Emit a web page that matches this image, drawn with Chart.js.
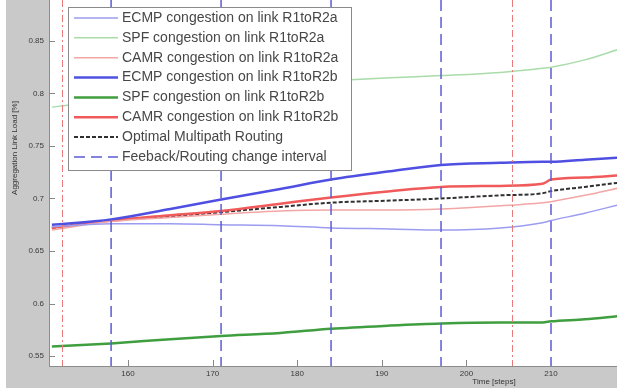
<!DOCTYPE html>
<html>
<head>
<meta charset="utf-8">
<script src="https://cdn.jsdelivr.net/npm/chart.js@4.4.0/dist/chart.umd.min.js"></script>
<style>
    html, body { margin: 0; padding: 0; background: #ffffff; }
    #wrap { width: 617px; height: 388px; }
</style>
</head>
<body>
<div id="wrap"><canvas id="loadChart" width="617" height="388"></canvas></div>
<script>
// time steps shared by all series
var times = [151, 158, 165, 171, 178, 184, 191, 197, 204, 209, 210, 214, 218];

var ecmpA = [0.673, 0.676, 0.676, 0.675, 0.674, 0.672, 0.671, 0.670, 0.672, 0.677, 0.679, 0.686, 0.694];
var spfA = [0.787, 0.794, 0.800, 0.805, 0.809, 0.812, 0.815, 0.817, 0.820, 0.824, 0.825, 0.832, 0.842];
var camrA = [0.670, 0.678, 0.682, 0.685, 0.688, 0.689, 0.689, 0.690, 0.693, 0.696, 0.697, 0.703, 0.710];
var ecmpB = [0.675, 0.680, 0.690, 0.699, 0.709, 0.718, 0.726, 0.732, 0.734, 0.735, 0.735, 0.737, 0.739];
var spfB = [0.559, 0.562, 0.566, 0.569, 0.572, 0.576, 0.579, 0.581, 0.582, 0.582, 0.583, 0.585, 0.588];
var camrB = [0.672, 0.679, 0.684, 0.688, 0.695, 0.701, 0.707, 0.711, 0.712, 0.714, 0.718, 0.720, 0.722];
var optimal = [0.672, 0.679, 0.683, 0.687, 0.692, 0.696, 0.698, 0.700, 0.703, 0.705, 0.707, 0.711, 0.715];

// feedback / routing change intervals and the red markers
var intervalTimes = [158, 171, 184, 197, 210];
var markerTimes = [152.2, 205.4];

var xTicks = [160, 170, 180, 190, 200, 210];
var yTicks = [0.55, 0.6, 0.65, 0.7, 0.75, 0.8, 0.85];

var legendLabels = [
    "ECMP congestion on link R1toR2a",
    "SPF congestion on link R1toR2a",
    "CAMR congestion on link R1toR2a",
    "ECMP congestion on link R1toR2b",
    "SPF congestion on link R1toR2b",
    "CAMR congestion on link R1toR2b",
    "Optimal Multipath Routing",
    "Feeback/Routing change interval"
];

function pts(values) {
    return values.map(function (v, i) { return { x: times[i], y: v }; });
}

function series(label, values, color, width, dash) {
    return {
        label: label,
        data: pts(values),
        borderColor: color,
        borderWidth: width,
        borderDash: dash || [],
        pointRadius: 0,
        fill: false,
        cubicInterpolationMode: "monotone"
    };
}

var intervalStyle = { color: "#5c5cd6", width: 1.5, dash: [11, 6] };

var backdrop = {
    id: "backdrop",
    beforeDraw: function (chart) {
        var ctx = chart.ctx, a = chart.chartArea;
        ctx.save();
        ctx.fillStyle = "#ffffff";
        ctx.fillRect(0, 0, chart.width, chart.height);
        ctx.fillStyle = "#c9c9c9";
        ctx.fillRect(6, 0, chart.width - 6, chart.height);
        ctx.fillStyle = "#ffffff";
        ctx.fillRect(a.left, a.top, a.right - a.left, a.bottom - a.top);
        ctx.restore();
    }
};

var extras = {
    id: "extras",
    afterDatasetsDraw: function (chart) {
        var ctx = chart.ctx, a = chart.chartArea;
        var xs = chart.scales.x, ys = chart.scales.y;
        ctx.save();
        ctx.beginPath();
        ctx.rect(a.left, a.top, a.right - a.left, a.bottom - a.top);
        ctx.clip();

        // red dash-dot markers
        ctx.strokeStyle = "#e87a7a";
        ctx.lineWidth = 1;
        ctx.setLineDash([7, 3, 2, 3]);
        markerTimes.forEach(function (t) {
            var px = Math.round(xs.getPixelForValue(t)) + 0.5;
            ctx.beginPath();
            ctx.moveTo(px, a.top);
            ctx.lineTo(px, a.bottom);
            ctx.stroke();
        });

        // blue dashed interval lines
        ctx.strokeStyle = intervalStyle.color;
        ctx.lineWidth = intervalStyle.width;
        ctx.setLineDash(intervalStyle.dash);
        intervalTimes.forEach(function (t) {
            var px = xs.getPixelForValue(t);
            ctx.beginPath();
            ctx.moveTo(px, a.top);
            ctx.lineTo(px, a.bottom);
            ctx.stroke();
        });

        // inward tick marks
        ctx.setLineDash([]);
        ctx.strokeStyle = "#888888";
        ctx.lineWidth = 1;
        xTicks.forEach(function (t) {
            var px = Math.round(xs.getPixelForValue(t)) + 0.5;
            ctx.beginPath();
            ctx.moveTo(px, a.bottom);
            ctx.lineTo(px, a.bottom - 6);
            ctx.stroke();
        });
        yTicks.forEach(function (v) {
            var py = Math.round(ys.getPixelForValue(v)) + 0.5;
            ctx.beginPath();
            ctx.moveTo(a.left, py);
            ctx.lineTo(a.left + 6, py);
            ctx.stroke();
        });
        ctx.restore();

        // axis titles
        ctx.save();
        ctx.fillStyle = "#333333";
        ctx.font = "8px 'Liberation Sans', Arial, sans-serif";
        ctx.textAlign = "center";
        ctx.textBaseline = "middle";
        ctx.fillText("Time [steps]", 494, 382);
        ctx.translate(15, 148);
        ctx.rotate(-Math.PI / 2);
        ctx.fillText("Aggregation Link Load [%]", 0, 0);
        ctx.restore();
    },
    afterDraw: function (chart) {
        // legend box in the upper left of the plot
        var ctx = chart.ctx;
        var bx = 68, by = 7, bw = 283, bh = 163;
        ctx.save();
        ctx.fillStyle = "#ffffff";
        ctx.fillRect(bx, by, bw, bh);
        ctx.strokeStyle = "#8a8a8a";
        ctx.lineWidth = 1;
        ctx.strokeRect(bx + 0.5, by + 0.5, bw, bh);

        ctx.font = "14px 'Liberation Sans', Arial, sans-serif";
        ctx.textBaseline = "middle";
        legendLabels.forEach(function (label, i) {
            var y = 18 + i * 19.85;
            var ds = chart.data.datasets[i];
            var color = ds ? ds.borderColor : intervalStyle.color;
            var width = ds ? ds.borderWidth : intervalStyle.width;
            var dash = ds ? ds.borderDash : intervalStyle.dash;
            ctx.strokeStyle = color;
            ctx.lineWidth = width;
            ctx.setLineDash(dash);
            ctx.beginPath();
            ctx.moveTo(74, y);
            ctx.lineTo(118, y);
            ctx.stroke();
            ctx.fillStyle = "#474747";
            ctx.fillText(label, 122, y);
        });
        ctx.restore();
    }
};

var ctx = document.getElementById("loadChart").getContext("2d");
var loadChart = new Chart(ctx, {
    type: "line",
    data: {
        datasets: [
            series(legendLabels[0], ecmpA, "#9c9cf0", 1.5),
            series(legendLabels[1], spfA, "#a9dcaa", 1.5),
            series(legendLabels[2], camrA, "#f3a6a6", 1.5),
            series(legendLabels[3], ecmpB, "#4f4fe2", 2.5),
            series(legendLabels[4], spfB, "#3f9e3f", 2.5),
            series(legendLabels[5], camrB, "#f05a5a", 2.5),
            series(legendLabels[6], optimal, "#303030", 2, [4, 2])
        ]
    },
    options: {
        responsive: false,
        animation: false,
        layout: { padding: 0 },
        plugins: {
            legend: { display: false },
            tooltip: { enabled: false }
        },
        scales: {
            x: {
                type: "linear",
                min: 150.66,
                max: 217.8,
                afterBuildTicks: function (scale) {
                    scale.ticks = xTicks.map(function (v) { return { value: v }; });
                },
                afterFit: function (scale) {
                    scale.height = 22;
                    scale.paddingLeft = 0;
                    scale.paddingRight = 0;
                },
                grid: { drawOnChartArea: false, drawTicks: false },
                border: { display: true, color: "#8c8c8c", width: 1 },
                ticks: {
                    padding: 3,
                    color: "#3a3a3a",
                    font: { size: 8, family: "'Liberation Sans', Arial, sans-serif" },
                    maxRotation: 0
                }
            },
            y: {
                min: 0.5405,
                max: 0.889,
                afterBuildTicks: function (scale) {
                    scale.ticks = yTicks.map(function (v) { return { value: v }; });
                },
                afterFit: function (scale) {
                    scale.width = 49;
                    scale.paddingTop = 0;
                    scale.paddingBottom = 0;
                },
                grid: { drawOnChartArea: false, drawTicks: false },
                border: { display: true, color: "#8c8c8c", width: 1 },
                ticks: {
                    padding: 5,
                    color: "#3a3a3a",
                    font: { size: 8, family: "'Liberation Sans', Arial, sans-serif" },
                    callback: function (v) { return String(v); }
                }
            }
        }
    },
    plugins: [backdrop, extras]
});
</script>
</body>
</html>
